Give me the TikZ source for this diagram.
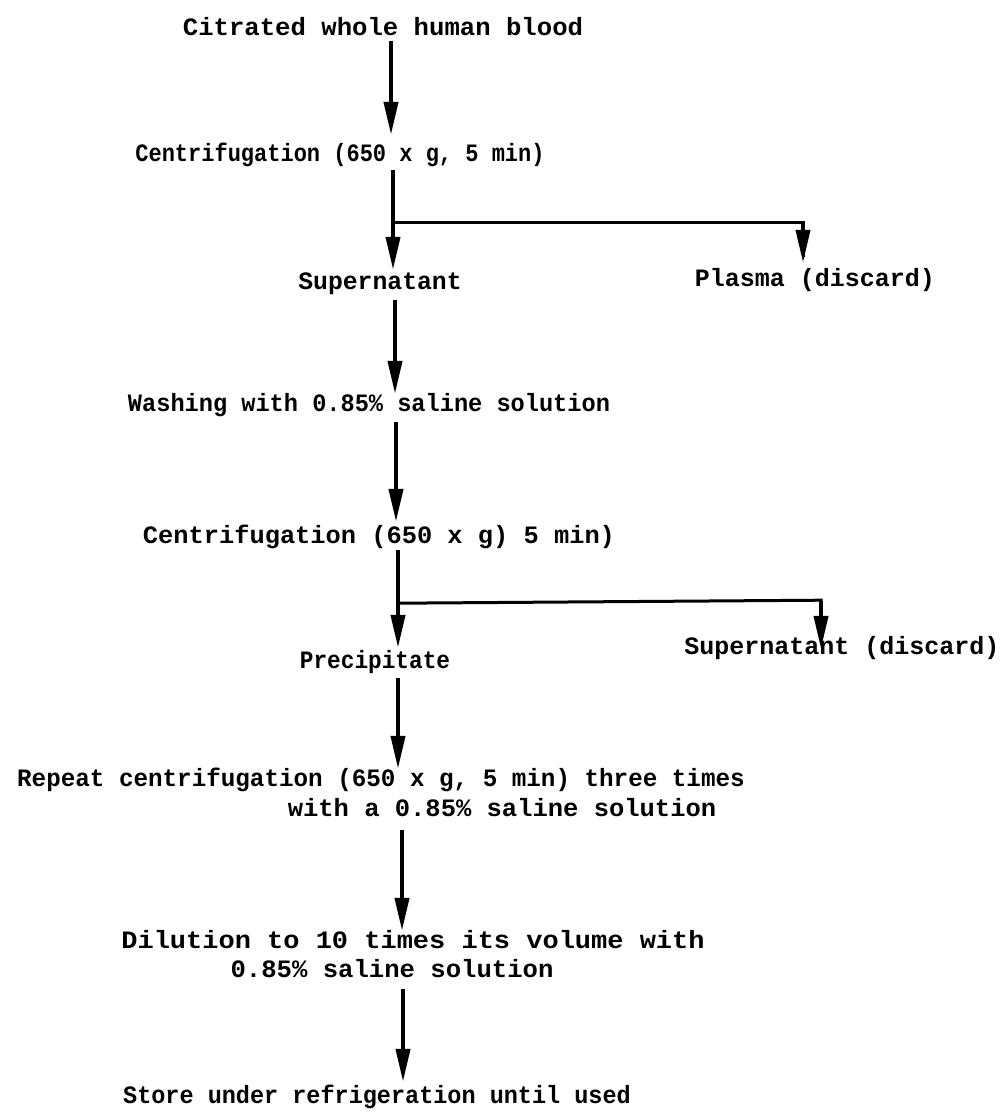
\documentclass[tikz,border=0pt]{standalone}
\usepackage{fontspec}
\usepackage{graphicx}
\setmainfont{Liberation Mono}
\usetikzlibrary{arrows.meta,calc}
\tikzset{
  lbl/.style={inner sep=0pt, font=\fontsize{25}{29}\selectfont\bfseries, text height=17pt, text depth=5pt},
  arr/.style={line width=4pt, -{Triangle[width=14pt,length=33pt]}},
  lin/.style={line width=3pt}
}
\newcommand{\sx}[2]{\scalebox{#1}[1]{#2}}
\begin{document}
\begin{tikzpicture}[x=1pt,y=-1pt]
\useasboundingbox (0,0) rectangle (1005,1116);
% texts
\node[lbl] (t1) at (383,30) {\sx{1.026}{Citrated whole human blood}};
\node[lbl] (t2) at (340,155) {\sx{0.88}{Centrifugation (650 x g, 5 min)}};
\node[lbl] (t3) at (380,283) {\sx{0.99}{Supernatant}};
\node[lbl] (p1) at (815,280) {Plasma (discard)};
\node[lbl] (t4) at (369,405) {\sx{0.945}{Washing with 0.85\% saline solution}};
\node[lbl] (t5) at (379,537) {\sx{1.015}{Centrifugation (650 x g) 5 min)}};
\node[lbl] (t6) at (375,662) {\sx{0.91}{Precipitate}};
\node[lbl] (p2) at (842,648) {Supernatant (discard)};
\node[lbl] (t7a) at (381,780) {\sx{0.97}{Repeat centrifugation (650 x g, 5 min) three times}};
\node[lbl] (t7b) at (502,810) {\sx{1.02}{with a 0.85\% saline solution}};
\node[lbl] (t8a) at (413,942) {\sx{1.08}{Dilution to 10 times its volume with}};
\node[lbl] (t8b) at (392,971) {\sx{1.025}{0.85\% saline solution}};
\node[lbl] (t9) at (377,1097) {\sx{0.94}{Store under refrigeration until used}};
% arrow x positions
\coordinate (c1) at (391,0);
\coordinate (c2) at (393,0);
\coordinate (c3) at (395,0);
\coordinate (c4) at (396,0);
\coordinate (c5) at (398,0);
\coordinate (c6) at (398,0);
\coordinate (c7) at (402,0);
\coordinate (c8) at (403,0);
\coordinate (b1) at (803,0);
\coordinate (b2) at (821,0);
% connectors
\draw[arr] (t1.south -| c1) -- ($(t2.north -| c1)+(0,-9)$);
\draw[arr] ($(t2.south -| c2)+(0,4)$) -- ($(t3.north -| c2)+(0,-2)$);
\coordinate (j1) at ($(t2.south -| c2)+(0,56)$);
\draw[lin, line join=miter] (j1) -- (j1 -| b1) -- ($(p1.north -| b1)+(0,-12)$);
\draw[arr] ($(j1 -| b1)+(0,1)$) -- ($(p1.north -| b1)+(0,-6)$);
\draw[arr] ($(t3.south -| c3)+(0,6)$) -- (t4.north -| c3);
\draw[arr] ($(t4.south -| c4)+(0,6)$) -- ($(t5.north -| c4)+(0,-4)$);
\draw[arr] ($(t5.south -| c5)+(0,2)$) -- ($(t6.north -| c5)+(0,-3)$);
\coordinate (j2) at ($(t5.south -| c5)+(0,55)$);
\draw[lin, line join=miter] (j2) -- ($(j2 -| b2)+(0,-3)$) -- ($(p2.north -| b2)+(0,-6)$);
\draw[arr] ($(j2 -| b2)+(0,-2)$) -- ($(p2.north -| b2)+(0,12)$);
\draw[arr] ($(t6.south -| c6)+(0,5)$) -- (t7a.north -| c6);
\draw[arr] ($(t7b.south -| c7)+(0,9)$) -- (t8a.north -| c7);
\draw[arr] ($(t8b.south -| c8)+(0,7)$) -- ($(t9.north -| c8)+(0,-4)$);
\end{tikzpicture}
\end{document}
